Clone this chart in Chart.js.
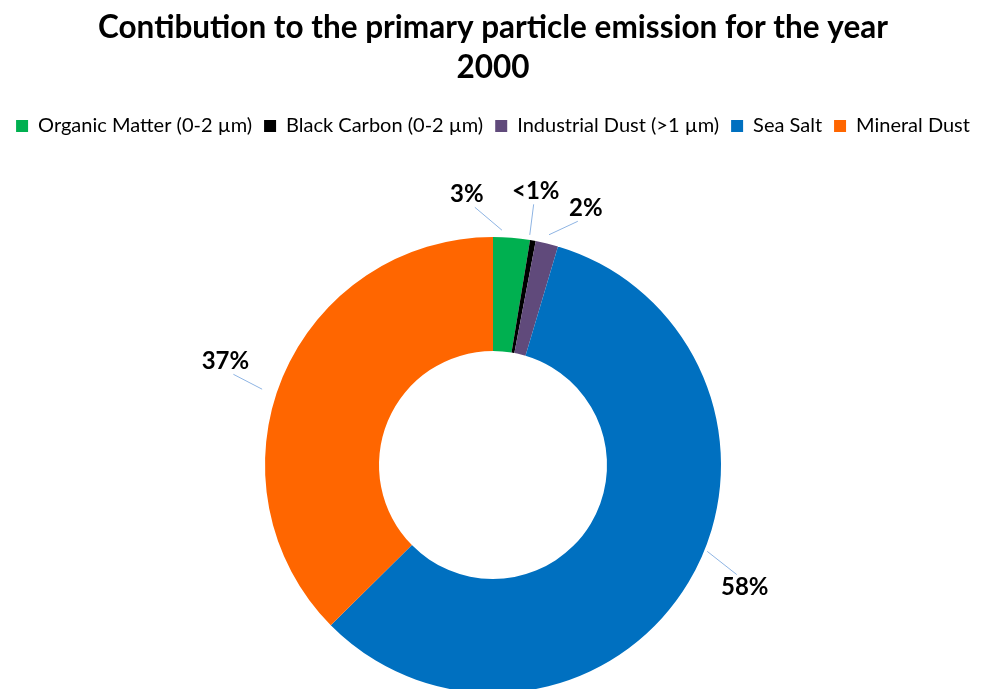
<!DOCTYPE html>
<html><head><meta charset="utf-8">
<script src="https://cdn.jsdelivr.net/npm/chart.js@4/dist/chart.umd.min.js"></script>
<style>html,body{margin:0;padding:0;background:#fff;overflow:hidden}#wrap{width:1001px;height:800px;position:relative}</style>
</head><body><div id="wrap"><canvas id="c" width="1001" height="800"></canvas></div>
<script>
const categories = ['Organic Matter (0-2 µm)', 'Black Carbon (0-2 µm)', 'Industrial Dust (>1 µm)', 'Sea Salt', 'Mineral Dust'];
const shares = [2.6, 0.4, 1.6, 58.0, 37.4];
const sliceLabels = ['3%', '<1%', '2%', '58%', '37%'];
const sliceColors = ['#00B050', '#000000', '#604A7B', '#0070C0', '#FF6600'];

const FONT = 'Lato';

const labelPlugin = {
  id: 'outLabels',
  afterDraw(chart, args, opts) {
    const ctx = chart.ctx;
    const meta = chart.getDatasetMeta(0);
    ctx.save();
    ctx.font = 'bold ' + opts.size + 'px ' + FONT;
    ctx.textAlign = 'center';
    ctx.textBaseline = 'middle';
    meta.data.forEach((arc, i) => {
      const p = opts.placements[i];
      const mid = (arc.startAngle + arc.endAngle) / 2;
      const R = arc.outerRadius;
      const la = mid + p.da * Math.PI / 180;
      const lr = R + p.dr;
      const cx = arc.x + lr * Math.cos(la);
      const cy = arc.y + lr * Math.sin(la);
      const aa = mid + p.la * Math.PI / 180;
      const ar = R + p.ar;
      const ax = arc.x + ar * Math.cos(aa);
      const ay = arc.y + ar * Math.sin(aa);
      const w = ctx.measureText(sliceLabels[i]).width;
      const ey = cy + (ay > cy ? 1 : -1) * opts.half;
      const dx = ax - cx;
      const ex = cx + Math.sign(dx) * Math.min(8, Math.abs(dx) * 0.35, w / 2);
      ctx.strokeStyle = '#8EB4E3';
      ctx.lineWidth = 1;
      ctx.beginPath();
      ctx.moveTo(ax, ay);
      ctx.lineTo(ex, ey);
      ctx.stroke();
      ctx.fillStyle = '#000';
      ctx.fillText(sliceLabels[i], cx, cy);
    });
    ctx.restore();
  }
};

new Chart(document.getElementById('c'), {
  type: 'doughnut',
  data: {
    labels: categories,
    datasets: [{
      data: shares,
      backgroundColor: sliceColors,
      borderWidth: 0
    }]
  },
  plugins: [labelPlugin],
  options: {
    responsive: false,
    animation: false,
    devicePixelRatio: 1,
    radius: 228,
    cutout: '50%',
    layout: { padding: { left: 0, right: 15, top: 0, bottom: 16 } },
    events: [],
    plugins: {
      title: {
        display: true,
        text: ['Contibution to the primary particle emission for the year', '2000'],
        color: '#000',
        font: { family: FONT, size: 31.5, weight: 'bold', lineHeight: 1.27 },
        padding: { top: 8, bottom: 16 }
      },
      legend: {
        position: 'top',
        labels: {
          color: '#000',
          boxWidth: 12,
          boxHeight: 12,
          padding: 12,
          font: { family: FONT, size: 20 }
        }
      },
      tooltip: { enabled: false },
      outLabels: {
        size: 24,
        half: 13,
        placements: [
          { da: -10.2, dr: 44, la: -2.5, ar: 7 },
          { da: -1.2, dr: 49, la: -1, ar: 5 },
          { da: 6.2, dr: 45, la: 0, ar: 9 },
          { da: -5, dr: 52, la: -9, ar: 3 },
          { da: -1.5, dr: 59, la: -4.5, ar: 15 }
        ]
      }
    }
  }
});
</script>
</body></html>
